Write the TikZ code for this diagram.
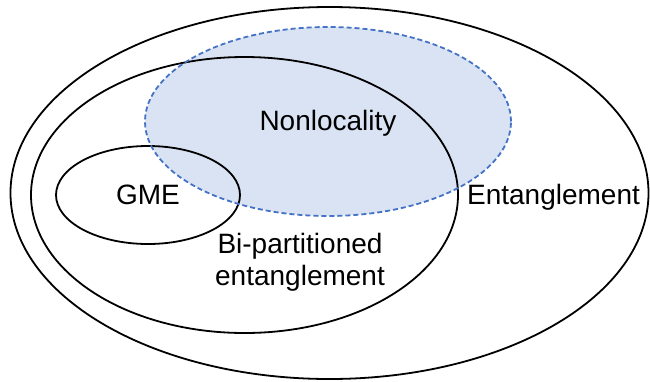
\documentclass[tikz,border=0pt]{standalone}
\usepackage{fontspec}
\setmainfont{Liberation Sans}
\usetikzlibrary{shapes.geometric}
\definecolor{nlfill}{HTML}{DAE3F3}
\definecolor{nlline}{HTML}{4472C4}
\begin{document}
\begin{tikzpicture}[x=1pt,y=-1pt,
  setline/.style={ellipse,draw=black,line width=1.8pt,inner sep=0pt},
  lbl/.style={font=\fontsize{28}{32}\selectfont,inner sep=0pt,align=center,anchor=base}]
\useasboundingbox (0,0) rectangle (650,381);
\node[setline,minimum width=638pt,minimum height=372pt] (ent) at (329.5,193) {};
\node[ellipse,fill=nlfill,inner sep=0pt,minimum width=366pt,minimum height=189pt] (nlf) at (328,121.5) {};
\node[setline,minimum width=427pt,minimum height=276pt] (bip) at (244.5,195) {};
\node[setline,minimum width=184pt,minimum height=98pt] (gme) at (148,195) {};
\node[ellipse,draw=nlline,dashed,dash pattern=on 5pt off 3pt,line width=1.8pt,inner sep=0pt,minimum width=366pt,minimum height=189pt] (nl) at (328,121.5) {};
\node[lbl] (tnl) at (328,130.5) {Nonlocality};
\node[lbl] (tgme) at (148,204) {GME};
\node[lbl] (tent) at (553.5,204) {Entanglement};
\node[lbl] (tbip) at (300,285) {Bi-partitioned\\entanglement};
\end{tikzpicture}
\end{document}
